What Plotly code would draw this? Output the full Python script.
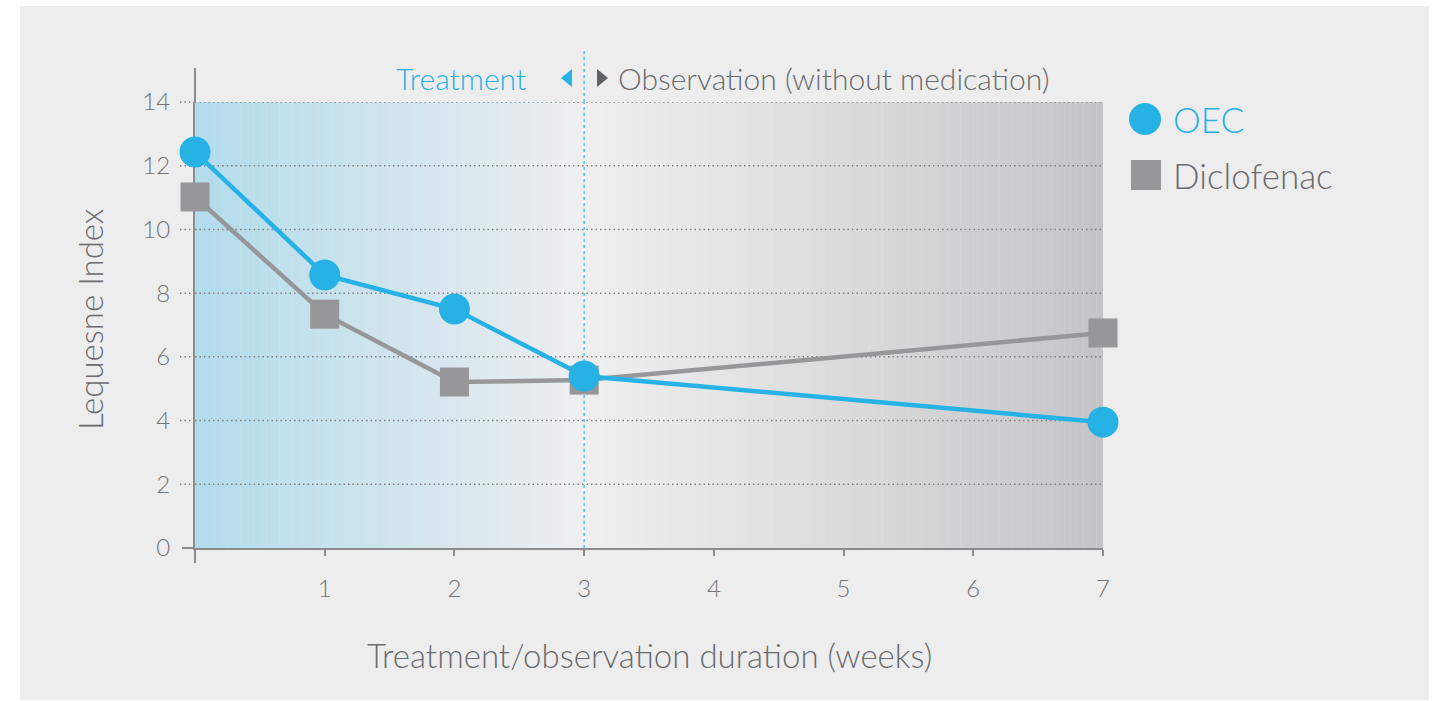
import numpy as np
import plotly.graph_objects as go

# Lequesne Index over the treatment / observation period
weeks = [0, 1, 2, 3, 7]
oec = [12.43, 8.57, 7.5, 5.4, 3.95]
diclofenac = [11.02, 7.34, 5.21, 5.27, 6.75]

x_ticks = [1, 2, 3, 4, 5, 6, 7]
y_ticks = [0, 2, 4, 6, 8, 10, 12, 14]
treatment_end = 3

BLUE = "#27b2e6"
GREY_MARK = "#97979a"
TEXT = "#6a6b6e"
TICK_TEXT = "#737477"
AXIS = "#8c8c8e"
FONT = "Lato"

W, H = 1436, 701
L, R, T, B = 195, 1103, 102, 548  # plot area in pixels


def px(p):
    return (p - L) / (R - L)


def py(p):
    return (B - p) / (B - T)


def xw(p):
    return (p - L) / (R - L) * 7


# background gradient stops along the week axis
grad_x = [0, 1, 2, 2.8, 3, 4, 5, 6, 7]
grad_rgb = [
    (177, 219, 236), (198, 226, 236), (217, 231, 238), (234, 237, 239),
    (239, 239, 240), (229, 229, 230), (219, 219, 220), (208, 208, 210),
    (196, 196, 198),
]

fig = go.Figure()

shapes = []
# light grey panel
shapes.append(dict(type="rect", xref="paper", yref="paper",
                   x0=px(20), x1=px(1429), y0=py(700), y1=py(6),
                   fillcolor="#ededed", line_width=0, layer="below"))

# gradient strips
edges = np.linspace(0, 7, 141)
arr = np.array(grad_rgb, dtype=float)
for a, b in zip(edges[:-1], edges[1:]):
    m = (a + b) / 2
    c = [int(round(np.interp(m, grad_x, arr[:, k]))) for k in range(3)]
    shapes.append(dict(type="rect", xref="x", yref="y", x0=a, x1=b + 0.002,
                       y0=0, y1=14, fillcolor=f"rgb({c[0]},{c[1]},{c[2]})",
                       line_width=0, layer="below"))

GRID = dict(color="#808080", width=1.5, dash="1.5px,3px")
# dotted horizontal gridlines inside the plot, plus short stubs left of the axis
for v in y_ticks[1:]:
    shapes.append(dict(type="line", xref="x", yref="y",
                       x0=0, x1=7, y0=v, y1=v, line=GRID, layer="between"))
    shapes.append(dict(type="line", xref="paper", yref="paper",
                       x0=px(180), x1=px(194), y0=v / 14, y1=v / 14,
                       line=GRID, layer="between"))

# y axis line extensions above and below the plotting range
shapes.append(dict(type="line", xref="paper", yref="paper",
                   x0=0, x1=0, y0=py(563), y1=0,
                   line=dict(color=AXIS, width=2)))
shapes.append(dict(type="line", xref="paper", yref="paper",
                   x0=0, x1=0, y0=1, y1=py(68),
                   line=dict(color=AXIS, width=2)))
# x axis base line extension to the left
shapes.append(dict(type="line", xref="paper", yref="paper",
                   x0=px(182), x1=0, y0=0, y1=0,
                   line=dict(color=AXIS, width=2)))

# end of treatment divider
DIV = dict(color="#5cc3ea", width=1.5, dash="3px,3px")
shapes.append(dict(type="line", xref="x", yref="y",
                   x0=treatment_end, x1=treatment_end, y0=0, y1=14,
                   line=DIV, layer="between"))
shapes.append(dict(type="line", xref="paper", yref="paper",
                   x0=treatment_end / 7, x1=treatment_end / 7,
                   y0=1, y1=py(48), line=DIV))

# small arrows either side of the divider
shapes.append(dict(type="path", xref="x", yref="paper",
                   path=f"M {xw(561)} {py(78)} L {xw(572)} {py(69)} L {xw(572)} {py(87)} Z",
                   fillcolor=BLUE, line_width=0))
shapes.append(dict(type="path", xref="x", yref="paper",
                   path=f"M {xw(608)} {py(78)} L {xw(597)} {py(69)} L {xw(597)} {py(87)} Z",
                   fillcolor="#5f6063", line_width=0))

# legend markers
shapes.append(dict(type="circle", xref="paper", yref="paper",
                   x0=px(1129), x1=px(1161), y0=py(135), y1=py(103),
                   fillcolor=BLUE, line_width=0))
shapes.append(dict(type="rect", xref="paper", yref="paper",
                   x0=px(1131), x1=px(1161), y0=py(190), y1=py(160),
                   fillcolor=GREY_MARK, line_width=0))

fig.add_trace(go.Scatter(
    x=weeks, y=diclofenac, mode="lines+markers", name="Diclofenac",
    line=dict(color=GREY_MARK, width=4.5),
    marker=dict(symbol="square", size=29, color=GREY_MARK),
    cliponaxis=False, showlegend=False,
))
fig.add_trace(go.Scatter(
    x=weeks, y=oec, mode="lines+markers", name="OEC",
    line=dict(color=BLUE, width=4.5),
    marker=dict(symbol="circle", size=31, color=BLUE),
    cliponaxis=False, showlegend=False,
))


def label(text, x, y, size, color, xanchor="left", angle=0, xref="paper"):
    return dict(text=text, xref=xref, yref="paper", x=x, y=y, textangle=angle,
                xanchor=xanchor, yanchor="middle", showarrow=False,
                font=dict(family=FONT, size=size, color=color, weight=300))


annotations = [
    label("Treatment", xw(528), py(78), 30, BLUE, "right", xref="x"),
    label("Observation (without medication)", xw(616), py(78), 30, TEXT, xref="x"),
    label("OEC", px(1171), py(119), 35, BLUE),
    label("Diclofenac", px(1171), py(175), 35, TEXT),
    label("Treatment/observation duration (weeks)", px(649), py(655), 33, TEXT, "center"),
    label("Lequesne Index", px(90), py(320), 33, TEXT, "center", angle=-90),
]

fig.update_layout(
    width=W, height=H,
    margin=dict(l=L, r=W - R, t=T, b=H - B, pad=0),
    paper_bgcolor="white", plot_bgcolor="rgba(0,0,0,0)",
    shapes=shapes, annotations=annotations, showlegend=False,
    xaxis=dict(range=[0, 7], tickvals=x_ticks, ticktext=[str(v) for v in x_ticks],
               showgrid=False, zeroline=False, showline=True, linecolor=AXIS,
               linewidth=2, ticks="outside", ticklen=6, tickwidth=2,
               tickcolor=AXIS, ticklabelstandoff=12, layer="below traces",
               tickfont=dict(family=FONT, size=24, color=TICK_TEXT, weight=300)),
    yaxis=dict(range=[0, 14], tickvals=y_ticks, showgrid=False, zeroline=False,
               showline=True, linecolor=AXIS, linewidth=2, layer="below traces",
               ticks="outside", ticklen=18, tickcolor="rgba(0,0,0,0)",
               tickfont=dict(family=FONT, size=24, color=TICK_TEXT, weight=300)),
)

fig.write_html("out.html")
